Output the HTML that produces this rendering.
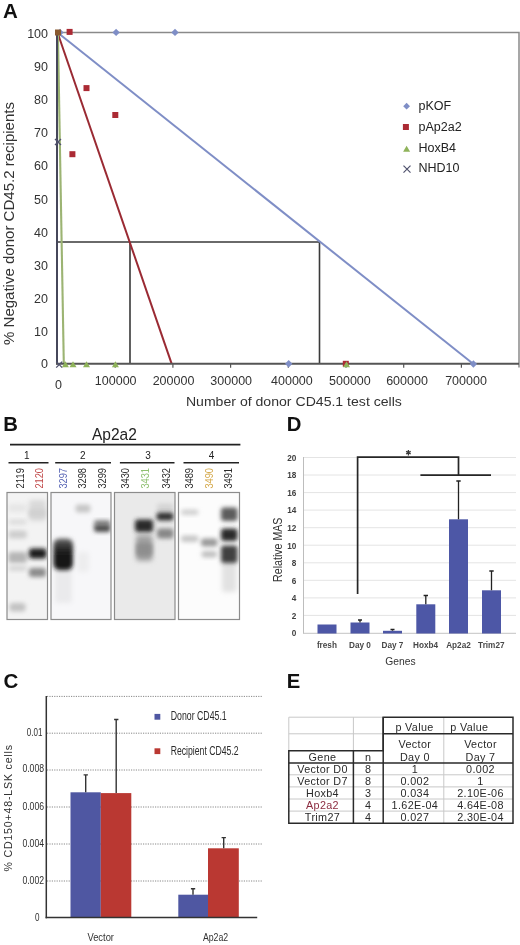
<!DOCTYPE html>
<html>
<head>
<meta charset="utf-8">
<style>
html,body{margin:0;padding:0;background:#fff;}
body{width:520px;height:945px;overflow:hidden;position:relative;}
svg{position:absolute;left:0;top:0;display:block;will-change:transform;}
text{font-family:"Liberation Sans",sans-serif;}
</style>
</head>
<body>
<svg width="520" height="945" viewBox="0 0 520 945">
<defs>
  <filter id="b1" x="-50%" y="-50%" width="200%" height="200%"><feGaussianBlur stdDeviation="1.9"/></filter>
  <filter id="b2" x="-50%" y="-50%" width="200%" height="200%"><feGaussianBlur stdDeviation="2.4"/></filter>
  <filter id="b3" x="-50%" y="-50%" width="200%" height="200%"><feGaussianBlur stdDeviation="3.5"/></filter>
  <linearGradient id="lg1" x1="0" y1="0" x2="0" y2="1"><stop offset="0" stop-color="#6a6a6a"/><stop offset="0.3" stop-color="#2a2a2a"/><stop offset="0.6" stop-color="#141414"/><stop offset="1" stop-color="#1a1a1a"/></linearGradient>
  <clipPath id="g1"><rect x="7" y="492.5" width="40.5" height="127"/></clipPath>
  <clipPath id="g2"><rect x="51" y="492.5" width="60" height="127"/></clipPath>
  <clipPath id="g3"><rect x="114.5" y="492.5" width="60.5" height="127"/></clipPath>
  <clipPath id="g4"><rect x="178.5" y="492.5" width="61" height="127"/></clipPath>
</defs>

<!-- ================= PANEL A ================= -->
<text x="3" y="18" font-size="20.5" font-weight="bold" fill="#111">A</text>

<g font-size="12.5" fill="#333" text-anchor="end">
  <text x="48" y="38">100</text>
  <text x="48" y="71.3">90</text>
  <text x="48" y="104.3">80</text>
  <text x="48" y="137.4">70</text>
  <text x="48" y="170.4">60</text>
  <text x="48" y="203.5">50</text>
  <text x="48" y="236.5">40</text>
  <text x="48" y="269.6">30</text>
  <text x="48" y="302.6">20</text>
  <text x="48" y="335.7">10</text>
  <text x="48" y="368.2">0</text>
</g>
<g font-size="12.5" fill="#333" text-anchor="middle">
  <text x="58.6" y="388.6">0</text>
  <text x="115.7" y="384.8">100000</text>
  <text x="173.5" y="384.8">200000</text>
  <text x="231.2" y="384.8">300000</text>
  <text x="291.9" y="384.8">400000</text>
  <text x="349.9" y="384.8">500000</text>
  <text x="407" y="384.8">600000</text>
  <text x="466" y="384.8">700000</text>
</g>
<text x="185.9" y="405.8" font-size="13.3" fill="#333" textLength="216" lengthAdjust="spacingAndGlyphs">Number of donor CD45.1 test cells</text>
<text transform="translate(14.4,345) rotate(-90)" font-size="15" fill="#333" textLength="243" lengthAdjust="spacingAndGlyphs">% Negative donor CD45.2 recipients</text>

<!-- plot border -->
<path d="M57.5 32.5 H519 V367.5" fill="none" stroke="#8a8a8a" stroke-width="1.5"/>
<!-- ticks -->
<g stroke="#555" stroke-width="1.2">
  <path d="M115.2 363.5v4.3M172.9 363.5v4.3M230.6 363.5v4.3M288.3 363.5v4.3M346 363.5v4.3M403.7 363.5v4.3M461.4 363.5v4.3"/>
</g>
<!-- guide lines -->
<path d="M57.5 242 H319.5 V363.5 M130 242 V363.5" fill="none" stroke="#3a3a3a" stroke-width="1.6"/>

<!-- pKOF line -->
<line x1="57.5" y1="32.5" x2="473.4" y2="364" stroke="#7f8ec6" stroke-width="2"/>
<!-- pAp2a2 line -->
<line x1="57.5" y1="32.5" x2="171.6" y2="363.7" stroke="#9a2a33" stroke-width="2"/>
<!-- HoxB4 line -->
<line x1="57.9" y1="32.5" x2="63.8" y2="363.8" stroke="#9cb473" stroke-width="2.1"/>
<!-- axes -->
<line x1="57" y1="32" x2="57" y2="364.5" stroke="#46475a" stroke-width="2"/>
<line x1="56" y1="363.8" x2="519" y2="363.8" stroke="#555" stroke-width="2"/>

<!-- pKOF markers -->
<g fill="#7f8ec6">
  <path d="M116.1 28.7l3.7 3.7-3.7 3.7-3.7-3.7z"/>
  <path d="M175 28.7l3.7 3.7-3.7 3.7-3.7-3.7z"/>
  <path d="M60 28.7l3.7 3.7-3.7 3.7-3.7-3.7z"/>
  <path d="M288.7 360.1l3.7 3.7-3.7 3.7-3.7-3.7z"/>
  <path d="M473.4 360.3l3.7 3.7-3.7 3.7-3.7-3.7z"/>
</g>
<!-- pAp2a2 markers -->
<g fill="#ab2a34">
  <rect x="66.6" y="28.9" width="6" height="6"/>
  <rect x="83.5" y="85.1" width="6" height="6"/>
  <rect x="112.3" y="112" width="6" height="6"/>
  <rect x="69.4" y="151.2" width="6" height="6"/>
  <rect x="342.8" y="360.8" width="6" height="6"/>
  <rect x="55" y="29.5" width="6" height="6" fill="#8a5a30"/>
</g>
<!-- HoxB4 markers -->
<g fill="#8fb35a">
  <path d="M65.4 361.3l3.5 6h-7z"/>
  <path d="M73 361.3l3.5 6h-7z"/>
  <path d="M86.5 361.3l3.5 6h-7z"/>
  <path d="M115.4 361.3l3.5 6h-7z"/>
  <path d="M346.5 361.3l3.5 6h-7z"/>
</g>
<!-- NHD10 markers -->
<g stroke="#50526e" stroke-width="1.3" fill="none">
  <path d="M55 139l6 6M61 139l-6 6"/>
  <path d="M56.2 361.6l6 6M62.2 361.6l-6 6"/>
</g>

<!-- legend -->
<path d="M406.6 102.8l3.4 3.4-3.4 3.4-3.4-3.4z" fill="#7f8ec6"/>
<rect x="402.9" y="124" width="6" height="6" fill="#ab2a34"/>
<path d="M406.6 145.7l3.5 6h-7z" fill="#8fb35a"/>
<path d="M403.5 165.7l7 7M410.5 165.7l-7 7" stroke="#50526e" stroke-width="1.2"/>
<g font-size="12.5" fill="#222">
  <text x="418.5" y="110">pKOF</text>
  <text x="418.5" y="130.8">pAp2a2</text>
  <text x="418.5" y="151.5">HoxB4</text>
  <text x="418.5" y="172.3">NHD10</text>
</g>

<!-- ================= PANEL B ================= -->
<text x="3.2" y="430.6" font-size="20.3" font-weight="bold" fill="#111">B</text>
<text x="92" y="439.7" font-size="16.3" fill="#222" textLength="44.9" lengthAdjust="spacingAndGlyphs">Ap2a2</text>
<g stroke="#222" stroke-width="1.6">
  <line x1="10" y1="444.6" x2="240.4" y2="444.6"/>
  <line x1="8.5" y1="462.7" x2="48.5" y2="462.7"/>
  <line x1="55.2" y1="462.7" x2="111" y2="462.7"/>
  <line x1="119.9" y1="462.7" x2="174.5" y2="462.7"/>
  <line x1="183.5" y1="462.7" x2="239" y2="462.7"/>
</g>
<g font-size="10" fill="#222" text-anchor="middle">
  <text x="26.9" y="459">1</text>
  <text x="82.7" y="459">2</text>
  <text x="148" y="459">3</text>
  <text x="211.5" y="459">4</text>
</g>
<g font-size="10.6" text-anchor="middle" fill="#2a2a2a">
  <text transform="translate(23.7,478.3) rotate(-90)" textLength="20.6" lengthAdjust="spacingAndGlyphs">2119</text>
  <text transform="translate(42.8,478.3) rotate(-90)" textLength="20.6" lengthAdjust="spacingAndGlyphs" fill="#c04848">2120</text>
  <text transform="translate(66.7,478.3) rotate(-90)" textLength="20.6" lengthAdjust="spacingAndGlyphs" fill="#5865b5">3297</text>
  <text transform="translate(86.1,478.3) rotate(-90)" textLength="20.6" lengthAdjust="spacingAndGlyphs">3298</text>
  <text transform="translate(105.5,478.3) rotate(-90)" textLength="20.6" lengthAdjust="spacingAndGlyphs">3299</text>
  <text transform="translate(129.2,478.3) rotate(-90)" textLength="20.6" lengthAdjust="spacingAndGlyphs">3430</text>
  <text transform="translate(148.6,478.3) rotate(-90)" textLength="20.6" lengthAdjust="spacingAndGlyphs" fill="#8ec070">3431</text>
  <text transform="translate(169.6,478.3) rotate(-90)" textLength="20.6" lengthAdjust="spacingAndGlyphs">3432</text>
  <text transform="translate(192.6,478.3) rotate(-90)" textLength="20.6" lengthAdjust="spacingAndGlyphs">3489</text>
  <text transform="translate(212.6,478.3) rotate(-90)" textLength="20.6" lengthAdjust="spacingAndGlyphs" fill="#d4a84a">3490</text>
  <text transform="translate(232.4,478.3) rotate(-90)" textLength="20.6" lengthAdjust="spacingAndGlyphs">3491</text>
</g>

<!-- gel 1 -->
<rect x="7" y="492.5" width="40.5" height="127" fill="#f3f3f3"/>
<g clip-path="url(#g1)">
  <rect x="8.6" y="504" width="18.2" height="8" rx="3" fill="#e6e6e6" filter="url(#b1)"/>
  <rect x="8.6" y="519.5" width="18.2" height="5.0" rx="3" fill="#dcdcdc" filter="url(#b1)"/>
  <rect x="8.6" y="530.5" width="18.2" height="8.0" rx="3" fill="#cdcdcd" filter="url(#b1)"/>
  <rect x="8.4" y="552" width="18.6" height="11" rx="3" fill="#b6b6b6" filter="url(#b1)"/>
  <rect x="8.6" y="565.5" width="18.2" height="5.5" rx="3" fill="#d6d6d6" filter="url(#b1)"/>
  <rect x="9.5" y="603" width="16.0" height="8.5" rx="3" fill="#c2c2c2" filter="url(#b1)"/>
  <rect x="29" y="500" width="17" height="21" rx="3" fill="#d9d9d9" filter="url(#b2)"/>
  <rect x="29" y="509" width="17" height="8" rx="3" fill="#d0d0d0" filter="url(#b1)"/>
  <rect x="29" y="548.5" width="17.5" height="10.0" rx="3" fill="#1c1c1c" filter="url(#b1)"/>
  <rect x="29" y="568" width="17" height="9" rx="3" fill="#8c8c8c" filter="url(#b1)"/>
</g>
<rect x="7" y="492.5" width="40.5" height="127" fill="none" stroke="#8c8c8c" stroke-width="1.2"/>

<!-- gel 2 -->
<rect x="51" y="492.5" width="60" height="127" fill="#f7f7f9"/>
<g clip-path="url(#g2)">
  <rect x="55" y="565" width="17" height="38" rx="3" fill="#eaeaec" filter="url(#b2)"/>
  <rect x="53.4" y="538.5" width="19.6" height="31.5" rx="6" fill="url(#lg1)" filter="url(#b1)"/>
  <rect x="75.5" y="504.5" width="15.0" height="8" rx="3" fill="#c6c6c6" filter="url(#b1)"/>
  <rect x="77" y="552" width="12" height="20" rx="3" fill="#ededee" filter="url(#b2)"/>
  <rect x="94" y="520" width="16.5" height="6" rx="3" fill="#8a8a8a" filter="url(#b1)"/>
  <rect x="94" y="524.5" width="16.5" height="7.5" rx="3" fill="#4e4e4e" filter="url(#b1)"/>
</g>
<rect x="51" y="492.5" width="60" height="127" fill="none" stroke="#8c8c8c" stroke-width="1.2"/>

<!-- gel 3 -->
<rect x="114.5" y="492.5" width="60.5" height="127" fill="#eaeaea"/>
<g clip-path="url(#g3)">
  <rect x="136" y="535" width="16.5" height="26" rx="3" fill="#a2a2a2" filter="url(#b2)"/>
  <rect x="136.5" y="543" width="15.5" height="13" rx="3" fill="#8e8e8e" filter="url(#b1)"/>
  <rect x="135" y="519.5" width="18.2" height="12.5" rx="3" fill="#2a2a2a" filter="url(#b1)"/>
  <rect x="157" y="503.5" width="16.5" height="8.5" rx="3" fill="#d4d4d4" filter="url(#b1)"/>
  <rect x="156.5" y="512.5" width="17.0" height="8.0" rx="3" fill="#333333" filter="url(#b1)"/>
  <rect x="157" y="528.5" width="16.5" height="10.0" rx="3" fill="#878787" filter="url(#b1)"/>
</g>
<rect x="114.5" y="492.5" width="60.5" height="127" fill="none" stroke="#8c8c8c" stroke-width="1.2"/>

<!-- gel 4 -->
<rect x="178.5" y="492.5" width="61" height="127" fill="#fcfcfc"/>
<g clip-path="url(#g4)">
  <rect x="181" y="509.5" width="17.5" height="5.5" rx="3" fill="#d0d0d0" filter="url(#b1)"/>
  <rect x="181" y="535.5" width="17.5" height="6.5" rx="3" fill="#c6c6c6" filter="url(#b1)"/>
  <rect x="201" y="538.5" width="16.5" height="8.0" rx="3" fill="#9a9a9a" filter="url(#b1)"/>
  <rect x="201.5" y="551" width="15.5" height="6.5" rx="3" fill="#c0c0c0" filter="url(#b1)"/>
  <rect x="222" y="560" width="14.5" height="32" rx="3" fill="#e2e2e2" filter="url(#b2)"/>
  <rect x="221" y="507.5" width="16.5" height="13.5" rx="3" fill="#5c5c5c" filter="url(#b1)"/>
  <rect x="221" y="528.5" width="16.5" height="12.5" rx="3" fill="#2c2c2c" filter="url(#b1)"/>
  <rect x="221" y="545.5" width="16.5" height="17.5" rx="3" fill="#414141" filter="url(#b1)"/>
</g>
<rect x="178.5" y="492.5" width="61" height="127" fill="none" stroke="#8c8c8c" stroke-width="1.2"/>

<!-- ================= PANEL D ================= -->
<text x="286.8" y="430.6" font-size="20.3" font-weight="bold" fill="#111">D</text>
<!-- gridlines -->
<g stroke="#e4e4e4" stroke-width="1">
  <path d="M303.5 457.5H516M303.5 475H516M303.5 492.6H516M303.5 510.1H516M303.5 527.7H516M303.5 545.2H516M303.5 562.8H516M303.5 580.3H516M303.5 597.9H516M303.5 615.4H516"/>
</g>
<line x1="303.5" y1="457" x2="303.5" y2="633.5" stroke="#bdbdbd" stroke-width="1"/>
<line x1="303" y1="633.3" x2="516" y2="633.3" stroke="#c4c4c4" stroke-width="1"/>
<g font-size="8.2" fill="#404040" font-weight="bold" text-anchor="end">
  <text x="296.3" y="460.8">20</text>
  <text x="296.3" y="478.3">18</text>
  <text x="296.3" y="495.9">16</text>
  <text x="296.3" y="513.4">14</text>
  <text x="296.3" y="531">12</text>
  <text x="296.3" y="548.5">10</text>
  <text x="296.3" y="566.1">8</text>
  <text x="296.3" y="583.6">6</text>
  <text x="296.3" y="601.2">4</text>
  <text x="296.3" y="618.7">2</text>
  <text x="296.3" y="636.3">0</text>
</g>
<text transform="translate(282,581.9) rotate(-90)" font-size="12" fill="#333" textLength="64.3" lengthAdjust="spacingAndGlyphs">Relative MAS</text>
<!-- bars -->
<g fill="#4d57a6">
  <rect x="317.5" y="624.5" width="19" height="9"/>
  <rect x="350.5" y="622.5" width="19" height="11"/>
  <rect x="383" y="630.8" width="19" height="2.7"/>
  <rect x="416.3" y="604.3" width="19" height="29.2"/>
  <rect x="449" y="519.3" width="19" height="114.2"/>
  <rect x="482" y="590.3" width="19" height="43.2"/>
</g>
<!-- error bars -->
<g stroke="#222" stroke-width="1.3">
  <path d="M360 622.5V620M358 620h4"/>
  <path d="M392.5 630.8V629.5M390.5 629.5h4"/>
  <path d="M425.8 604.3V595.5M423.6 595.5h4.4"/>
  <path d="M458.5 519.3V481M456.3 481h4.4"/>
  <path d="M491.5 590.3V571M489.3 571h4.4"/>
</g>
<!-- bracket -->
<path d="M357.6 594V457.1H458.5V475.1M420.4 475.1H491" fill="none" stroke="#262626" stroke-width="1.7"/>
<path d="M408.4 450v5.4M406.1 451.35l4.6 2.7M406.1 454.05l4.6-2.7" stroke="#3a3a3a" stroke-width="1.3" fill="none"/>
<g font-size="8.2" fill="#484848" font-weight="bold" text-anchor="middle">
  <text x="326.9" y="648.1">fresh</text>
  <text x="360" y="648.1">Day 0</text>
  <text x="392.5" y="648.1">Day 7</text>
  <text x="425.6" y="648.1">Hoxb4</text>
  <text x="458.5" y="648.1">Ap2a2</text>
  <text x="491.3" y="648.1">Trim27</text>
</g>
<text x="400.5" y="664.8" font-size="10.3" fill="#333" text-anchor="middle">Genes</text>

<!-- ================= PANEL C ================= -->
<text x="3.4" y="687.8" font-size="20.5" font-weight="bold" fill="#111">C</text>
<g stroke="#888" stroke-width="1" stroke-dasharray="1.2 1.2">
  <path d="M47 696.4H263M47 733.2H263M47 770H263M47 807H263M47 844H263M47 881H263"/>
</g>
<g fill="#4f57a2">
  <rect x="70.5" y="792.3" width="30.3" height="125.3"/>
  <rect x="178.3" y="894.7" width="29.7" height="22.9"/>
</g>
<g fill="#ba3832">
  <rect x="100.8" y="793.1" width="30.5" height="124.5"/>
  <rect x="208" y="848.3" width="30.8" height="69.3"/>
</g>
<g stroke="#333" stroke-width="1.4">
  <path d="M85.7 792.3V774.9M83.6 774.9h4.3"/>
  <path d="M116.2 793.1V719.5M114.1 719.5h4.3"/>
  <path d="M193 894.7V888.8M190.9 888.8h4.3"/>
  <path d="M223.7 848.3V837.6M221.6 837.6h4.3"/>
</g>
<line x1="46.3" y1="696" x2="46.3" y2="918.3" stroke="#333" stroke-width="1.5"/>
<line x1="45.6" y1="917.6" x2="257.2" y2="917.6" stroke="#333" stroke-width="1.5"/>
<g font-size="11.2" fill="#2e2e2e">
  <text x="26.8" y="735.6" textLength="15.6" lengthAdjust="spacingAndGlyphs">0.01</text>
  <text x="22.4" y="772.4" textLength="21.7" lengthAdjust="spacingAndGlyphs">0.008</text>
  <text x="22.4" y="809.5" textLength="21.7" lengthAdjust="spacingAndGlyphs">0.006</text>
  <text x="22.4" y="846.7" textLength="21.7" lengthAdjust="spacingAndGlyphs">0.004</text>
  <text x="22.4" y="883.8" textLength="21.7" lengthAdjust="spacingAndGlyphs">0.002</text>
  <text x="34.9" y="920.8" textLength="4.5" lengthAdjust="spacingAndGlyphs">0</text>
</g>
<text transform="translate(12.2,871.5) rotate(-90)" font-size="10.6" fill="#333" textLength="126.5" lengthAdjust="spacing">% CD150+48-LSK cells</text>
<rect x="154.5" y="713.9" width="5.8" height="5.8" fill="#4f57a2"/>
<rect x="154.5" y="748.3" width="5.8" height="5.8" fill="#ba3832"/>
<text x="170.7" y="720.3" font-size="12.3" fill="#2a2a2a" textLength="56" lengthAdjust="spacingAndGlyphs">Donor CD45.1</text>
<text x="170.7" y="755.4" font-size="12.3" fill="#2a2a2a" textLength="68" lengthAdjust="spacingAndGlyphs">Recipient CD45.2</text>
<text x="87.4" y="941.2" font-size="11.5" fill="#333" textLength="26.6" lengthAdjust="spacingAndGlyphs">Vector</text>
<text x="202.9" y="941.2" font-size="11.5" fill="#333" textLength="25.3" lengthAdjust="spacingAndGlyphs">Ap2a2</text>

<!-- ================= PANEL E ================= -->
<text x="286.8" y="688.1" font-size="20.3" font-weight="bold" fill="#111">E</text>
<!-- light grid -->
<g stroke="#c8c8c8" stroke-width="1">
  <path d="M288.8 717.2H383M288.8 733.8H383M288.8 717.2V750.8M353.4 717.2V750.8"/>
  <path d="M443.8 717.2V823.2"/>
  <path d="M288.8 774.8H513M288.8 786.9H513M288.8 799H513M288.8 811.1H513"/>
</g>
<!-- dark grid -->
<g stroke="#2a2a2a" stroke-width="1.5" fill="none">
  <path d="M383.2 717.2H513V823.2H288.8V750.8H383.2Z"/>
  <path d="M383.2 717.2V823.2"/>
  <path d="M383.2 733.7H513"/>
  <path d="M288.8 763H513"/>
  <path d="M353.4 750.8V823.2"/>
</g>
<g font-size="10.8" fill="#2a2a2a" letter-spacing="0.35">
  <text x="395.4" y="731.3">p Value</text>
  <text x="450.2" y="731.3">p Value</text>
</g>
<g font-size="10.8" fill="#2a2a2a" text-anchor="middle" letter-spacing="0.35">
  <text x="414.9" y="747.5">Vector</text>
  <text x="480.5" y="747.5">Vector</text>
  <text x="322.5" y="760.8">Gene</text>
  <text x="368.2" y="760.8">n</text>
  <text x="414.9" y="760.8">Day 0</text>
  <text x="480.5" y="760.8">Day 7</text>

  <text x="322.5" y="772.8">Vector D0</text>
  <text x="368.2" y="772.8">8</text>
  <text x="414.9" y="772.8">1</text>
  <text x="480.5" y="772.8">0.002</text>

  <text x="322.5" y="784.9">Vector D7</text>
  <text x="368.2" y="784.9">8</text>
  <text x="414.9" y="784.9">0.002</text>
  <text x="480.5" y="784.9">1</text>

  <text x="322.5" y="796.9">Hoxb4</text>
  <text x="368.2" y="796.9">3</text>
  <text x="414.9" y="796.9">0.034</text>
  <text x="480.5" y="796.9">2.10E-06</text>

  <text x="322.5" y="809.0" fill="#8c2c40">Ap2a2</text>
  <text x="368.2" y="809.0">4</text>
  <text x="414.9" y="809.0">1.62E-04</text>
  <text x="480.5" y="809.0">4.64E-08</text>

  <text x="322.5" y="821.1">Trim27</text>
  <text x="368.2" y="821.1">4</text>
  <text x="414.9" y="821.1">0.027</text>
  <text x="480.5" y="821.1">2.30E-04</text>
</g>
</svg>
</body>
</html>
